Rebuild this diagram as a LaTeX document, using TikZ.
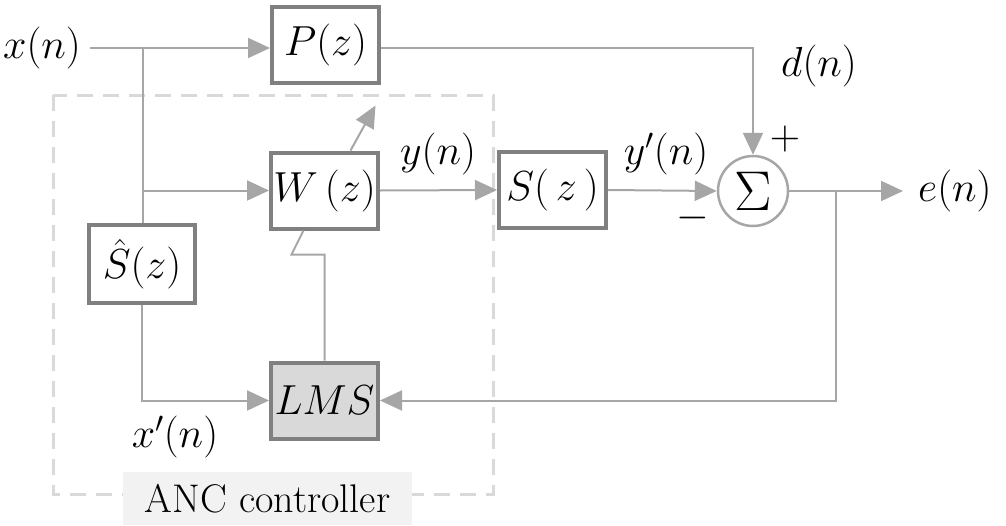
\RequirePackage{fix-cm}
\documentclass[tikz,border=0pt]{standalone}
\usetikzlibrary{arrows.meta,calc}
\definecolor{lnc}{HTML}{A6A6A6}
\definecolor{bxc}{HTML}{808080}
\definecolor{dsc}{HTML}{D9D9D9}
\definecolor{lmsf}{HTML}{D9D9D9}
\definecolor{ancf}{HTML}{F2F2F2}
\begin{document}
\begin{tikzpicture}[x=1pt,y=-1pt,
  font=\fontsize{42}{48}\selectfont,
  blk/.style={draw=bxc,line width=4pt,minimum width=107pt,minimum height=76pt,inner sep=0pt,fill=white},
  lbl/.style={inner sep=0pt},
  conn/.style={draw=lnc,line width=2pt},
  arr/.style={conn,-{Triangle[length=22pt,width=20pt,fill=lnc]}},
  ctrlbox/.style={draw=dsc,line width=3pt,dash pattern=on 16pt off 10pt}]
\useasboundingbox (0,0) rectangle (1006,525);
% dashed controller frame
\draw[ctrlbox] (53,95) rectangle (493,494);
\node[fill=ancf,minimum width=289pt,minimum height=53pt,inner sep=0pt,font=\fontsize{40}{46}\selectfont] (anc) at (267.5,498.5) {ANC controller};
% blocks
\node[blk] (P) at (325.5,44.5) {$P(z)$};
\node[blk] (W) at (324.5,190.5) {$W\,(z)$};
\node[blk] (S) at (552.5,190) {$S(\,z\,)$};
\node[blk,minimum width=106pt,minimum height=78pt] (Sh) at (142,264) {$\hat{S}(z)$};
\node[blk,fill=lmsf] (LMS) at (324.5,400.5) {$LMS$};
\node[draw=lnc,line width=2.5pt,circle,minimum size=70pt,inner sep=0pt,fill=white] (sum) at (753,191) {\fontsize{56}{60}\selectfont $\Sigma$};
% labels
\node[lbl] (xn) at (42,48) {$x(n)$};
\node[lbl] (dn) at (819,66) {$d(n)$};
\node[lbl] (yn) at (438,154) {$y(n)$};
\node[lbl] (ypn) at (666,154) {$y'(n)$};
\node[lbl,anchor=west] (en) at (918,191) {$e(n)$};
\node[lbl] (xpn) at (175,437) {$x'(n)$};
\node[lbl] (plus) at (785,139) {$+$};
\node[lbl] (minus) at (693,218) {$-$};
% coordinates
\coordinate (xs) at (90,48);
\coordinate (b1) at (143,48);
\coordinate (eo) at (903,191);
\coordinate (c1) at (836,191);
% connectors
\draw[arr] (xs) -- (xs -| P.west);
\draw[conn] (b1) -- (b1 |- Sh.north);
\draw[arr] (b1 |- W.west) -- (W.west);
\draw[arr] (P.east |- xs) -| (sum.north);
\draw[arr] (W.east) -- (S.west);
\draw[arr] (S.east) -- (sum.west);
\draw[arr] (sum.east) -- (eo);
\draw[arr] (c1) |- (LMS.east);
\draw[arr] (Sh.south) |- (LMS.west);
\draw[conn] (LMS.north) -- ++(0,-106) -- ++(-33,0) -- ($(W.south)+(-21,0)$);
\draw[arr] ($(W.north)+(26,0)$) -- ++(25,-45);
\end{tikzpicture}
\end{document}
